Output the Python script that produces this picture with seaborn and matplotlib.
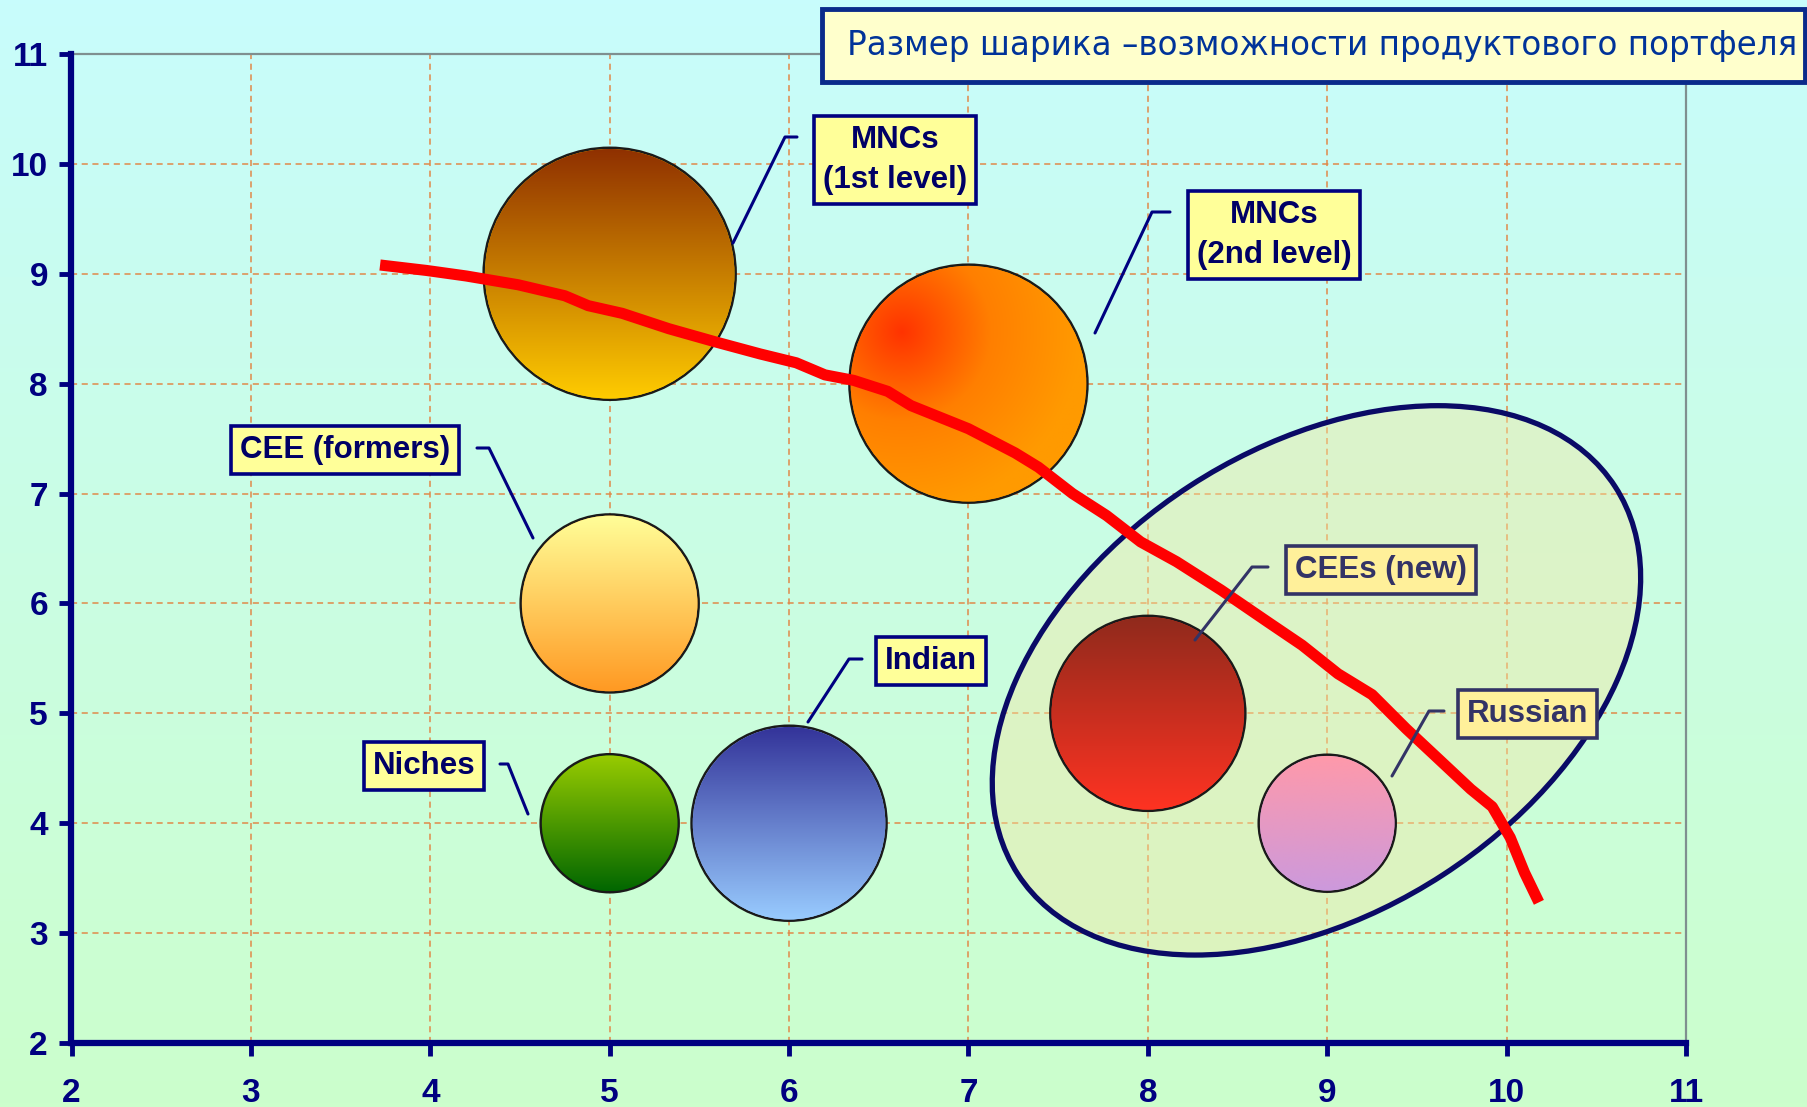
import numpy as np
import pandas as pd
import matplotlib
matplotlib.use("Agg")
import matplotlib.pyplot as plt
import matplotlib.transforms as mtransforms
from matplotlib.patches import Circle, Ellipse, Rectangle
from matplotlib.lines import Line2D
from matplotlib.colors import to_rgb
import seaborn as sns

# --- data -------------------------------------------------------------
segments = ["MNCs\n(1st level)", "MNCs\n(2nd level)", "CEE (formers)",
            "Niches", "Indian", "CEEs (new)", "Russian"]
position_x = [5, 7, 5, 5, 6, 8, 9]
position_y = [9, 8, 6, 4, 4, 5, 4]
portfolio = [12.6, 11.9, 8.9, 6.9, 9.75, 9.75, 6.85]   # bubble size

frontier_x = [3.72, 3.98, 4.20, 4.49, 4.75, 4.88, 5.07, 5.33, 5.59, 5.84,
              6.04, 6.20, 6.36, 6.55, 6.68, 7.00, 7.26, 7.39, 7.58, 7.77,
              7.96, 8.16, 8.41, 8.67, 8.86, 9.06, 9.25, 9.44, 9.63, 9.80,
              9.92, 10.02, 10.10, 10.18]
frontier_y = [9.08, 9.03, 8.98, 8.90, 8.80, 8.71, 8.64, 8.50, 8.38, 8.27,
              8.19, 8.08, 8.03, 7.93, 7.80, 7.59, 7.37, 7.24, 7.00, 6.80,
              6.56, 6.38, 6.12, 5.83, 5.62, 5.36, 5.17, 4.86, 4.57, 4.31,
              4.15, 3.87, 3.55, 3.28]

x_ticks = [2, 3, 4, 5, 6, 7, 8, 9, 10, 11]
y_ticks = [2, 3, 4, 5, 6, 7, 8, 9, 10, 11]
title_text = "Размер шарика –возможности продуктового портфеля"

# --- styling ----------------------------------------------------------
top_colors = ["#8f3000", "#ff3300", "#ffff99", "#99cc00", "#333399", "#8f2a1c", "#ff99aa"]
bottom_colors = ["#ffcc00", "#ff9900", "#ff9922", "#006600", "#99ccff", "#ff3322", "#cc99dd"]
NAVY = "#000080"

W, H = 1808, 1107
fx = lambda x: x / W
fy = lambda y: 1 - y / H

sns.set_theme(style="white")
plt.rcParams["font.family"] = ["Liberation Sans", "DejaVu Sans"]

fig = plt.figure(figsize=(W / 100, H / 100), dpi=100)

# page background: cyan at the top fading to pale green
bg = fig.add_axes([0, 0, 1, 1], zorder=-5)
t = np.linspace(0, 1, 256)[:, None, None]
c_top = np.array([200, 252, 252]) / 255
c_bot = np.array([204, 255, 204]) / 255
bg.imshow(c_top * (1 - t) + c_bot * t, aspect="auto", extent=[0, 1, 0, 1], origin="upper")
bg.axis("off")

x0, x1, yb, yt = 71.5, 1686, 1043, 54
ax = fig.add_axes([fx(x0), fy(yb), (x1 - x0) / W, (yb - yt) / H])
ax.set_facecolor("none")
ax.set_xlim(2, 11)
ax.set_ylim(2, 11)
ax.set_xticks(x_ticks)
ax.set_yticks(y_ticks)
ax.grid(True, color="#e0894a", linestyle=(0, (4, 3)), linewidth=1.1)
ax.set_axisbelow(True)

for side in ("left", "bottom"):
    ax.spines[side].set_color(NAVY)
    ax.spines[side].set_linewidth(4.5)
    ax.spines[side].set_zorder(7)
for side in ("top", "right"):
    ax.spines[side].set_color("#7f8f8f")
    ax.spines[side].set_linewidth(1.6)

ax.tick_params(axis="both", direction="out", length=9, width=3.5, color=NAVY,
               labelsize=24, labelcolor=NAVY, bottom=True, left=True,
               top=False, right=False)
ax.tick_params(axis="y", pad=8)
ax.tick_params(axis="x", pad=16)

# pixels per data unit
o = ax.transData.transform((0, 0))
sx = ax.transData.transform((1, 0))[0] - o[0]
sy = ax.transData.transform((0, 1))[1] - o[1]

# region of the emerging-market players
ell_center = (8.94, 5.30)
ell_tr = fig.dpi_scale_trans + mtransforms.ScaledTranslation(*ell_center, ax.transData)
ax.add_patch(Ellipse((0, 0), 7.12, 4.64, angle=33, transform=ell_tr,
                     facecolor=(0.96, 0.90, 0.64, 0.42), edgecolor="none", zorder=1.5))
ax.add_patch(Ellipse((0, 0), 7.12, 4.64, angle=33, transform=ell_tr,
                     facecolor="none", edgecolor="#0a0a66", linewidth=3.8, zorder=5.5))

# bubbles
df = pd.DataFrame({"segment": segments, "x": position_x, "y": position_y,
                   "portfolio": portfolio})
radius_px = df["portfolio"].to_numpy() * 10
marker_s = (2 * radius_px * 0.72) ** 2
sns.scatterplot(data=df, x="x", y="y", hue="segment",
                palette=dict(zip(segments, bottom_colors)), s=marker_s,
                edgecolor="#1a1a1a", linewidth=1.8, legend=False, ax=ax, zorder=3)


def gradient_image(i, n=200):
    v = np.linspace(0, 1, n)
    if i == 1:
        # red glow near the upper-left of the bubble fading to orange
        u, w = np.meshgrid(v, v)
        d = np.clip(np.hypot(u - 0.22, w - 0.28) / 0.75, 0, 1)[..., None]
        a = np.array(to_rgb("#ff3300"))
        m = np.array(to_rgb("#ff7f00"))
        b = np.array(to_rgb("#ff9a00"))
        return np.where(d < 0.5, a + (m - a) * (d / 0.5), m + (b - m) * ((d - 0.5) / 0.5))
    a = np.array(to_rgb(top_colors[i]))
    b = np.array(to_rgb(bottom_colors[i]))
    tt = v[:, None, None]
    return np.repeat(a * (1 - tt) + b * tt, n, axis=1)


for i, (cx, cy, r) in enumerate(zip(df["x"], df["y"], radius_px)):
    im = ax.imshow(gradient_image(i), origin="upper", aspect="auto",
                   interpolation="bilinear", zorder=4,
                   extent=[cx - r / sx, cx + r / sx, cy - r / sy, cy + r / sy])
    clip = Circle((0, 0), (r - 1.2) / 100,
                  transform=fig.dpi_scale_trans + mtransforms.ScaledTranslation(cx, cy, ax.transData))
    im.set_clip_path(clip)

# cost / capability frontier
sns.lineplot(x=frontier_x, y=frontier_y, sort=False, estimator=None, color="#ff0000",
             linewidth=8, ax=ax, zorder=6, solid_capstyle="butt")

ax.set_xlim(2, 11)
ax.set_ylim(2, 11)
ax.set_xlabel("")
ax.set_ylabel("")
for lbl in ax.get_xticklabels() + ax.get_yticklabels():
    lbl.set_fontweight("bold")

# callout labels (box centre, leader polyline in page pixels)
callouts = [
    ((895, 160), [(797, 137), (785, 137), (733, 243)], False),
    ((1274, 235), [(1170, 212), (1152, 212), (1095, 333)], False),
    ((345, 450), [(477, 448), (489, 448), (533, 538)], False),
    ((424, 766), [(500, 764), (508, 764), (528, 814)], False),
    ((931, 661), [(862, 659), (849, 659), (808, 722)], False),
    ((1381, 570), [(1268, 567), (1252, 567), (1195, 640)], True),
    ((1528, 714), [(1444, 711), (1429, 711), (1392, 776)], True),
]
for name, (pos, leader, muted) in zip(segments, callouts):
    txt_c = "#333366" if muted else "#000066"
    box_c = "#fff09a" if muted else "#ffff99"
    edge_c = "#333366" if muted else NAVY
    fig.text(fx(pos[0]), fy(pos[1]), name, ha="center", va="center",
             fontsize=22.5, fontweight="bold", color=txt_c, linespacing=1.45,
             bbox=dict(boxstyle="square,pad=0.28", fc=box_c, ec=edge_c, lw=2.6),
             zorder=8)
    fig.add_artist(Line2D([fx(p[0]) for p in leader], [fy(p[1]) for p in leader],
                          transform=fig.transFigure, color=txt_c if muted else NAVY,
                          linewidth=2.2, zorder=7))

# header box
fig.add_artist(Rectangle((fx(822), fy(82)), (1805 - 822) / W, 73 / H,
                         transform=fig.transFigure, facecolor="#ffffcc",
                         edgecolor="#0a2a8a", linewidth=3.5, zorder=9))
fig.text(fx(1322), fy(46), title_text, ha="center", va="center", fontsize=23.5,
         color="#003399", family="DejaVu Sans", zorder=10)

fig.savefig("out.png", dpi=100)
